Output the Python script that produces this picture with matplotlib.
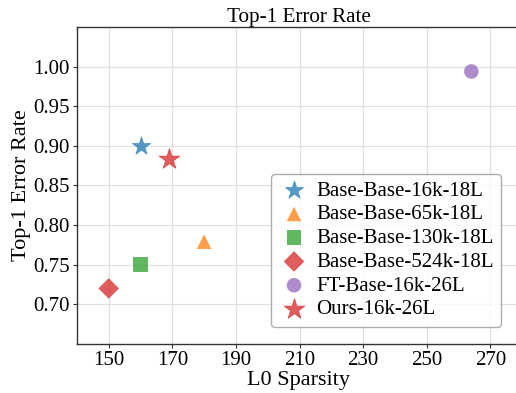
import matplotlib
matplotlib.use("Agg")
import matplotlib.pyplot as plt

plt.rcParams['font.family'] = ['Liberation Serif', 'DejaVu Serif']
plt.rcParams['mathtext.fontset'] = 'stix'

# data
labels = ['Base-Base-16k-18L', 'Base-Base-65k-18L', 'Base-Base-130k-18L',
          'Base-Base-524k-18L', 'FT-Base-16k-26L', 'Ours-16k-26L']
sparsity = [160, 180, 160, 150, 264, 169]
error = [0.900, 0.779, 0.750, 0.720, 0.994, 0.883]
markers = ['*', '^', 's', 'D', 'o', '*']
sizes = [190, 110, 110, 110, 110, 250]
colors = ['#1f77b4', '#ff7f0e', '#2ca02c', '#d62728', '#9467bd', '#d62728']
yticks = [0.70, 0.75, 0.80, 0.85, 0.90, 0.95, 1.00]

fig = plt.figure(figsize=(5.16, 3.93), dpi=100)
ax = fig.add_axes([0.149, 0.125, 0.86, 0.806])

for x, y, m, s, c, lab in zip(sparsity, error, markers, sizes, colors, labels):
    ax.scatter(x, y, marker=m, s=s, color=c, alpha=0.75, label=lab, zorder=3,
               edgecolors='none' if m != '*' else c, linewidths=0.5)

ax.set_xlim(140, 279.5)
ax.set_ylim(0.65, 1.05)
ax.set_xticks(range(150, 271, 20))
ax.set_yticks(yticks)
ax.set_yticklabels(['%.2f' % v for v in yticks])
ax.tick_params(labelsize=15, length=3, width=0.8, color='#333333', pad=2)
ax.grid(True, color='#e0e0e0', linewidth=0.9, zorder=0)
ax.set_axisbelow(True)
for sp in ax.spines.values():
    sp.set_color('#333333')
    sp.set_linewidth(1.0)

ax.set_xlabel('L0 Sparsity', fontsize=16, labelpad=1)
ax.set_ylabel('Top-1 Error Rate', fontsize=16, labelpad=2)
ax.set_title('Top-1 Error Rate', fontsize=15.2, pad=3)

leg = ax.legend(loc='lower right', fontsize=15, frameon=True, fancybox=True,
                handletextpad=0.3, borderpad=0.35, labelspacing=0.2,
                handlelength=1.5, borderaxespad=0,
                bbox_to_anchor=(0.955, 0.054))
leg.get_frame().set_edgecolor('#999999')
leg.get_frame().set_linewidth(1.0)
for h in leg.legend_handles:
    h.set_alpha(0.75)

fig.savefig('out.png', dpi=100)
